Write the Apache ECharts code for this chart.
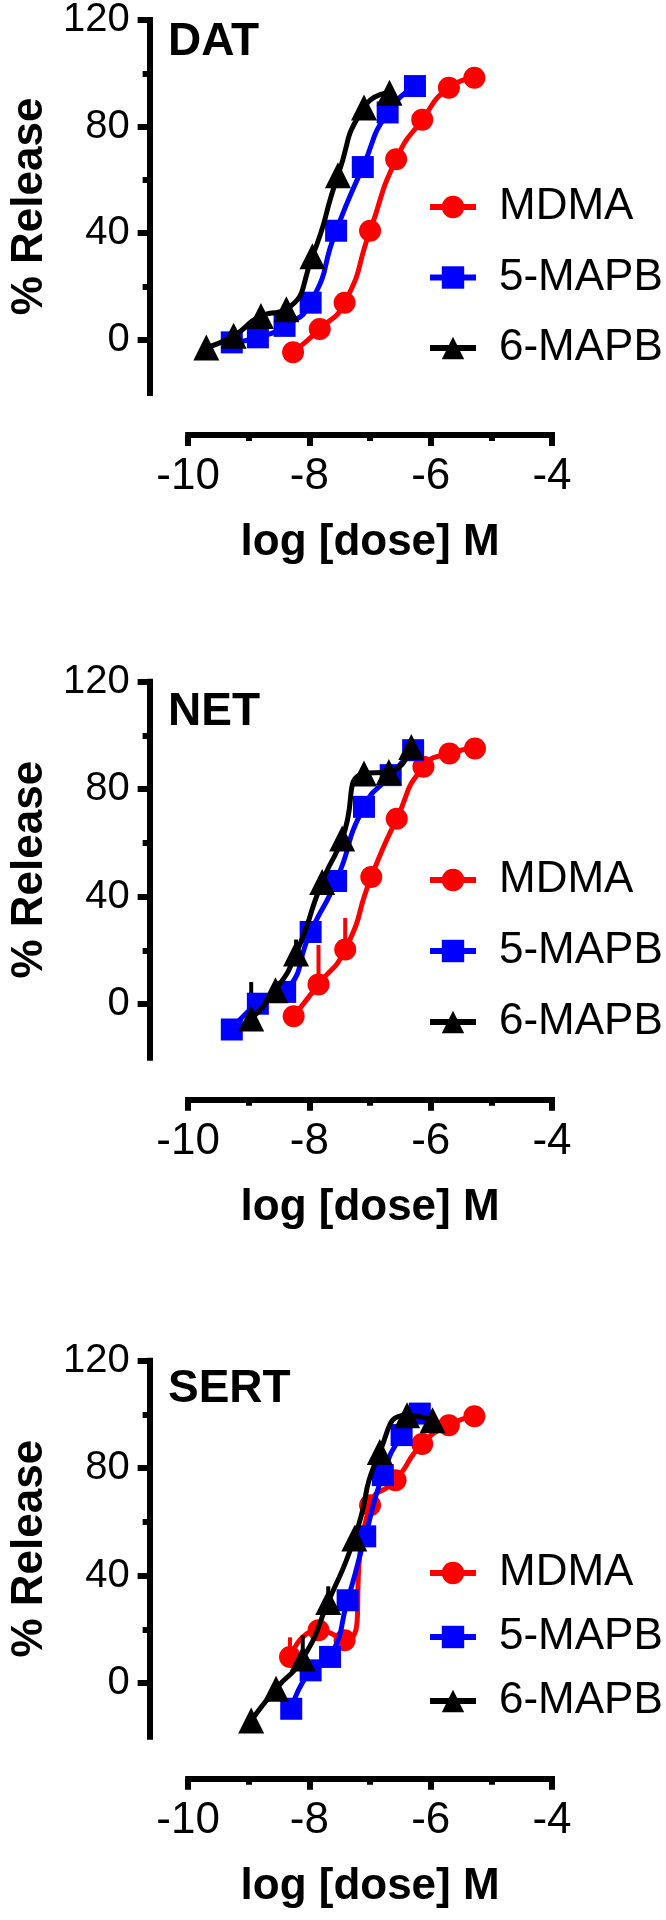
<!DOCTYPE html>
<html><head><meta charset="utf-8">
<script src="https://cdn.jsdelivr.net/npm/echarts@6/dist/echarts.min.js"></script>
<style>html,body{margin:0;padding:0;background:#fff}#c{width:666px;height:1920px}</style>
</head><body><div id="c"></div>
<script>
// ---------- data ----------
const panelTitles = ['DAT', 'NET', 'SERT'];
const seriesNames = ['MDMA', '5-MAPB', '6-MAPB'];
const xTickValues = [-10, -8, -6, -4];
const xMinorTickValues = [-9, -7, -5];
const yTickValues = [0, 40, 80, 120];
const yMinorTickValues = [20, 60, 100];
const xAxisTitle = 'log [dose] M';
const yAxisTitle = '% Release';

// DAT
const datMdmaDose = [-8.27, -7.83, -7.42, -7.0, -6.57, -6.14, -5.70, -5.28];
const datMdmaResp = [-4.7, 4.0, 13.9, 40.9, 67.7, 82.6, 94.6, 98.3];
const dat5Dose = [-9.28, -8.85, -8.41, -7.98, -7.56, -7.12, -6.71, -6.26];
const dat5Resp = [-1.0, 0.9, 5.2, 13.9, 40.9, 64.8, 85.3, 95.2];
const dat6Dose = [-9.70, -9.25, -8.80, -8.38, -7.95, -7.53, -7.10, -6.68];
const dat6Resp = [-2.9, 1.5, 8.9, 11.4, 31.3, 61.7, 87.2, 92.7];

// NET
const netMdmaDose = [-8.26, -7.85, -7.41, -6.98, -6.56, -6.12, -5.69, -5.27];
const netMdmaResp = [-4.6, 7.3, 20.3, 47.3, 69.0, 88.3, 93.3, 95.1];
const net5Dose = [-9.28, -8.85, -8.40, -7.98, -7.56, -7.10, -6.66, -6.29];
const net5Resp = [-9.5, 0.1, 4.5, 26.8, 45.8, 73.4, 85.2, 94.5];
const net6Dose = [-8.96, -8.56, -8.22, -7.79, -7.46, -7.10, -6.69, -6.32];
const net6Resp = [-5.4, 5.1, 18.8, 45.4, 61.6, 85.8, 86.4, 95.7];

// SERT
const sertMdmaDose = [-8.32, -7.85, -7.42, -7.0, -6.58, -6.14, -5.70, -5.28];
const sertMdmaResp = [9.7, 19.6, 15.9, 66.2, 75.5, 89.0, 96.0, 99.3];
const sert5Dose = [-8.30, -7.98, -7.66, -7.37, -7.08, -6.79, -6.48, -6.18];
const sert5Resp = [-9.6, 4.7, 9.7, 30.8, 54.6, 77.4, 92.3, 100.3];
const sert6Dose = [-8.96, -8.55, -8.11, -7.69, -7.26, -6.84, -6.39, -5.97];
const sert6Resp = [-14.0, -2.1, 9.1, 30.2, 53.8, 86.0, 99.7, 97.8];

// upper error bars: [dose, mean, upper]
const netMdmaErr = [[-7.85, 7.3, 22.0], [-7.41, 20.3, 32.0]];
const net6Err = [[-8.96, -5.4, 8.2], [-8.22, 18.8, 24.0]];
const sertMdmaErr = [[-8.32, 9.7, 17.0]];
const sert6Err = [[-8.11, 9.1, 17.8], [-7.69, 30.2, 36.0]];

const panelData = [
  [[datMdmaDose, datMdmaResp], [dat5Dose, dat5Resp], [dat6Dose, dat6Resp]],
  [[netMdmaDose, netMdmaResp], [net5Dose, net5Resp], [net6Dose, net6Resp]],
  [[sertMdmaDose, sertMdmaResp], [sert5Dose, sert5Resp], [sert6Dose, sert6Resp]]
];
const panelErr = [
  [[], [], []],
  [netMdmaErr, [], net6Err],
  [sertMdmaErr, [], sert6Err]
];

// ---------- style / layout ----------
const FONT = "'Liberation Sans', Arial, sans-serif";
const colors = ['#ff0000', '#0000ff', '#000000'];
const symbols = ['circle', 'rect', 'triangle'];
const symbolSizes = [22, 22, 26];
const panelOffsets = [0, 664.7, 1343.7];
const titleTops = [19, 689, 1366];
const legendCenters = [[207, 278, 348], [880, 950, 1022], [1573, 1637, 1701]];
const LEG_ROW = 44;

const grids = [], xAxes = [], yAxes = [], series = [], titles = [], legends = [];
const zip = (xs, ys) => xs.map((x, i) => [x, ys[i]]);

panelOffsets.forEach((o, p) => {
  grids.push({ left: 174.5, top: 17 + o, width: 377.5, height: 376 });
  const axisLineStyle = { color: '#000', width: 6, cap: 'square' };
  xAxes.push({
    type: 'value', gridIndex: p, min: -10, max: -4, interval: 1, position: 'bottom', offset: 42,
    axisLine: { show: true, onZero: false, lineStyle: axisLineStyle },
    axisTick: { show: true, customValues: xTickValues, length: 11, lineStyle: { color: '#000', width: 6 } },
    axisLabel: { show: true, customValues: xTickValues, fontSize: 44, color: '#000', fontFamily: FONT, margin: 20 },
    splitLine: { show: false },
    name: xAxisTitle, nameLocation: 'middle', nameGap: 86,
    nameTextStyle: { fontSize: 44, fontWeight: 'bold', color: '#000', fontFamily: FONT }
  });
  xAxes.push({
    type: 'value', gridIndex: p, min: -10, max: -4, interval: 1, position: 'bottom', offset: 42,
    axisLine: { show: false, onZero: false },
    axisTick: { show: true, customValues: xMinorTickValues, length: 6, lineStyle: { color: '#000', width: 6 } },
    axisLabel: { show: false }, splitLine: { show: false }
  });
  yAxes.push({
    type: 'value', gridIndex: p, min: -20, max: 120, interval: 20, position: 'left', offset: 38.5,
    axisLine: { show: true, onZero: false, lineStyle: axisLineStyle },
    axisTick: { show: true, customValues: yTickValues, length: 12, lineStyle: { color: '#000', width: 6 } },
    axisLabel: { show: true, customValues: yTickValues, fontSize: 40, color: '#000', fontFamily: FONT, margin: 20 },
    splitLine: { show: false },
    name: yAxisTitle, nameLocation: 'middle', nameGap: 91, nameRotate: 90,
    nameTextStyle: { fontSize: 44, fontWeight: 'bold', color: '#000', fontFamily: FONT }
  });
  yAxes.push({
    type: 'value', gridIndex: p, min: -20, max: 120, interval: 20, position: 'left', offset: 38.5,
    axisLine: { show: false, onZero: false },
    axisTick: { show: true, customValues: yMinorTickValues, length: 7, lineStyle: { color: '#000', width: 6 } },
    axisLabel: { show: false }, splitLine: { show: false }
  });
  titles.push({
    text: panelTitles[p], left: 168, top: titleTops[p], padding: 0,
    textStyle: { fontSize: 46, fontWeight: 'bold', color: '#000', fontFamily: FONT }
  });
  const lc = legendCenters[p];
  legends.push({
    orient: 'vertical', left: 427, top: lc[0] - LEG_ROW / 2, itemWidth: 46, itemHeight: 28,
    itemGap: (lc[2] - lc[0]) / 2 - LEG_ROW, padding: 0,
    data: seriesNames, selectedMode: false,
    lineStyle: { width: 6 },
    textStyle: { fontSize: 44, lineHeight: LEG_ROW, color: '#000', fontFamily: FONT, padding: [0, 0, 0, 18] }
  });
  panelData[p].forEach((sd, s) => {
    series.push({
      name: seriesNames[s], type: 'line', xAxisIndex: 2 * p, yAxisIndex: 2 * p,
      data: zip(sd[0], sd[1]), smooth: 0.6,
      symbol: symbols[s], symbolSize: symbolSizes[s], showSymbol: true,
      color: colors[s], itemStyle: { color: colors[s] },
      lineStyle: { color: colors[s], width: 5 },
      z: 3 + s, animation: false
    });
    if (panelErr[p][s].length) {
      series.push({
        type: 'custom', xAxisIndex: 2 * p, yAxisIndex: 2 * p, z: 2 + s, animation: false,
        data: panelErr[p][s],
        renderItem: (params, api) => {
          const a = api.coord([api.value(0), api.value(1)]);
          const b = api.coord([api.value(0), api.value(2)]);
          return { type: 'line', shape: { x1: a[0], y1: a[1], x2: b[0], y2: b[1] },
                   style: { stroke: colors[s], lineWidth: 4 } };
        }
      });
    }
  });
});

const chart = echarts.init(document.getElementById('c'), null, { renderer: 'canvas' });
chart.setOption({
  backgroundColor: '#fff', animation: false,
  title: titles, legend: legends, grid: grids, xAxis: xAxes, yAxis: yAxes, series: series
});
</script></body></html>
